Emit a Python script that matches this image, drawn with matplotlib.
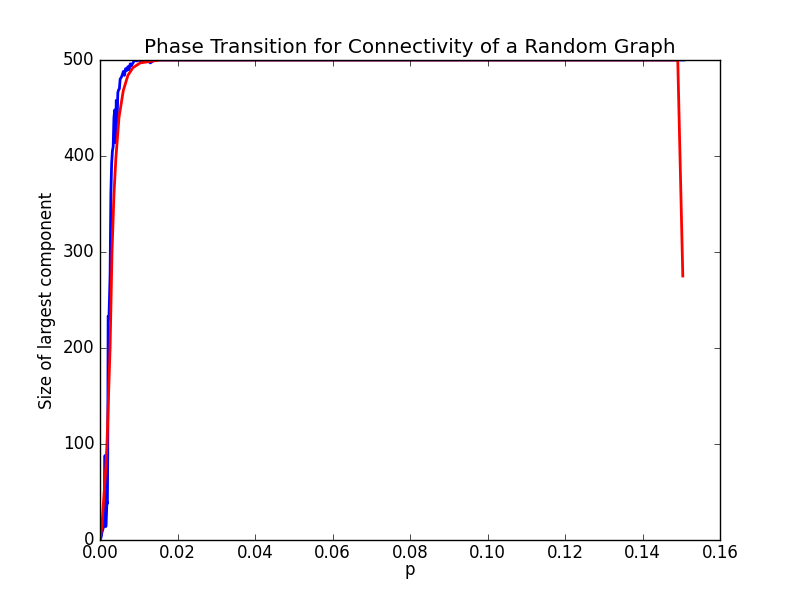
import numpy as np
import matplotlib
matplotlib.use('Agg')
import matplotlib.pyplot as plt

plt.style.use('classic')

p_meas = [0, 0.0003, 0.0005, 0.0008, 0.001, 0.0013, 0.0015, 0.0018, 0.0019,
          0.002, 0.0021, 0.0023, 0.0026, 0.0028, 0.003, 0.0032, 0.0034,
          0.0036, 0.0038, 0.004, 0.0042, 0.0044, 0.0046, 0.0048, 0.005,
          0.0052, 0.0055, 0.0058, 0.006, 0.0063, 0.0066, 0.0069, 0.0072,
          0.0075, 0.0078, 0.0081, 0.0085, 0.009, 0.0095, 0.01, 0.011,
          0.012, 0.013, 0.014, 0.015, 0.02, 0.1507]
size_meas = [0, 3, 8, 12, 15, 88, 14, 40, 38, 90, 233, 230, 275, 360, 392,
             405, 410, 440, 448, 414, 458, 434, 466, 469, 470, 480, 482, 485,
             488, 484, 491, 489, 493, 490, 496, 494, 497, 500, 499, 500, 498,
             500, 497, 500, 500, 500, 500]

# smoothed curve (red)
p_smooth = [0, 0.0005, 0.001, 0.0015, 0.0018, 0.0022, 0.0026, 0.0031,
            0.0036, 0.0041, 0.0049, 0.006, 0.0072, 0.0085, 0.0104, 0.0155,
            0.02, 0.1491, 0.1504]
size_smooth = [0, 15, 45, 75, 100, 150, 200, 300, 360, 398, 440, 468, 484,
               492, 497, 500, 500, 500, 275]

fig = plt.figure(figsize=(8, 6), dpi=100, facecolor='white')
ax = fig.add_subplot(111)
ax.plot(p_meas, size_meas, 'b-', lw=2)
ax.plot(p_smooth, size_smooth, 'r-', lw=2)

ax.set_xlim(0, 0.16)
ax.set_ylim(0, 500)
ax.set_xticks(np.arange(0, 0.161, 0.02))
ax.tick_params(axis='x', pad=3)
ax.set_title('Phase Transition for Connectivity of a Random Graph')
ax.set_xlabel('p', labelpad=-1)
ax.set_ylabel('Size of largest component')

fig.savefig('out.png', dpi=100, facecolor='white')
